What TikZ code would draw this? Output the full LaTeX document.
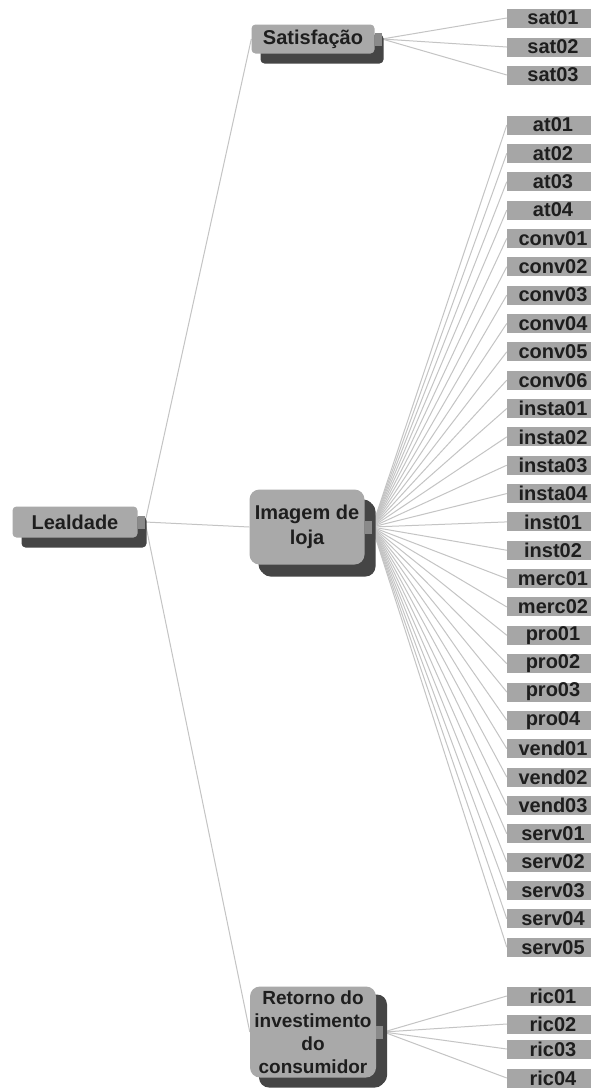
\documentclass[tikz,border=0pt]{standalone}
\usepackage{fontspec}
\setmainfont{Liberation Sans}
\usetikzlibrary{shadows,backgrounds}
\definecolor{boxgray}{HTML}{A9A9A9}
\definecolor{leafgray}{HTML}{A6A6A6}
\definecolor{shadowgray}{HTML}{454545}
\definecolor{linegray}{HTML}{C4C4C4}
\definecolor{handlegray}{HTML}{8A8A8A}
\definecolor{txt}{HTML}{1E1E1E}
\tikzset{
  midbox/.style={fill=boxgray, rounded corners=4pt, inner sep=0pt, text=txt, align=center,
    font=\bfseries\fontsize{20}{25}\selectfont,
    drop shadow={shadow xshift=9pt, shadow yshift=-10pt, opacity=1, fill=shadowgray}},
  leafbox/.style={fill=leafgray, minimum width=84pt, minimum height=19pt, inner sep=0pt,
    text=txt, font=\bfseries\fontsize{20}{20}\selectfont},
  handlebox/.style={fill=handlegray, minimum width=7pt, minimum height=13pt, inner sep=0pt, anchor=west},
  conn/.style={draw=linegray, line width=1pt}
}
\begin{document}
\begin{tikzpicture}[x=1pt,y=-1pt]
\useasboundingbox (0,0) rectangle (590,1088);
\begin{pgfonlayer}{background}
\fill[white] (0,0) rectangle (590,1088);
\end{pgfonlayer}

% root
\node[midbox, minimum width=125pt, minimum height=31pt] (lea) at (75,522) {Lealdade};
\node[handlebox] (leah) at (lea.east) {};

% mid level
\node[midbox, minimum width=123pt, minimum height=29pt] (sat) at (313,39) {Satisfação};
\node[handlebox] (sath) at (sat.east) {};
\node[midbox, rounded corners=10pt, minimum width=115pt, minimum height=75pt,
  drop shadow={shadow xshift=11pt, shadow yshift=-12pt, opacity=1, fill=shadowgray}] (img) at (307,527) {Imagem de\\loja};
\node[handlebox] (imgh) at (img.east) {};
\node[midbox, rounded corners=10pt, minimum width=126pt, minimum height=91pt,
  font=\bfseries\fontsize{19}{23}\selectfont,
  drop shadow={shadow xshift=11pt, shadow yshift=-8pt, opacity=1, fill=shadowgray}] (ret) at (313,1032) {Retorno do\\investimento\\do\\consumidor};
\node[handlebox] (reth) at (ret.east) {};

% leaves
\foreach \n/\y in {sat01/18,sat02/47,sat03/75}
  \node[leafbox] (\n) at (549,\y) {\hspace*{8pt}\n};
\foreach \n [count=\i from 0] in {at01,at02,at03,at04,conv01,conv02,conv03,conv04,conv05,conv06,insta01,insta02,insta03,insta04,inst01,inst02,merc01,merc02,pro01,pro02,pro03,pro04,vend01,vend02,vend03,serv01,serv02,serv03,serv04,serv05}
  \node[leafbox] (\n) at (549,{125+\i*28.35}) {\hspace*{8pt}\n};
\foreach \n/\y in {ric01/996,ric02/1024,ric03/1049,ric04/1078}
  \node[leafbox] (\n) at (549,\y) {\hspace*{8pt}\n};

% connectors
\begin{pgfonlayer}{background}
\foreach \m in {sat,img,ret}
  \draw[conn] (leah.east) -- (\m.west);
\foreach \n in {sat01,sat02,sat03}
  \draw[conn] (sath.east) -- (\n.west);
\foreach \n in {at01,at02,at03,at04,conv01,conv02,conv03,conv04,conv05,conv06,insta01,insta02,insta03,insta04,inst01,inst02,merc01,merc02,pro01,pro02,pro03,pro04,vend01,vend02,vend03,serv01,serv02,serv03,serv04,serv05}
  \draw[conn] (imgh.east) -- (\n.west);
\foreach \n in {ric01,ric02,ric03,ric04}
  \draw[conn] (reth.east) -- (\n.west);
\end{pgfonlayer}
\end{tikzpicture}
\end{document}
